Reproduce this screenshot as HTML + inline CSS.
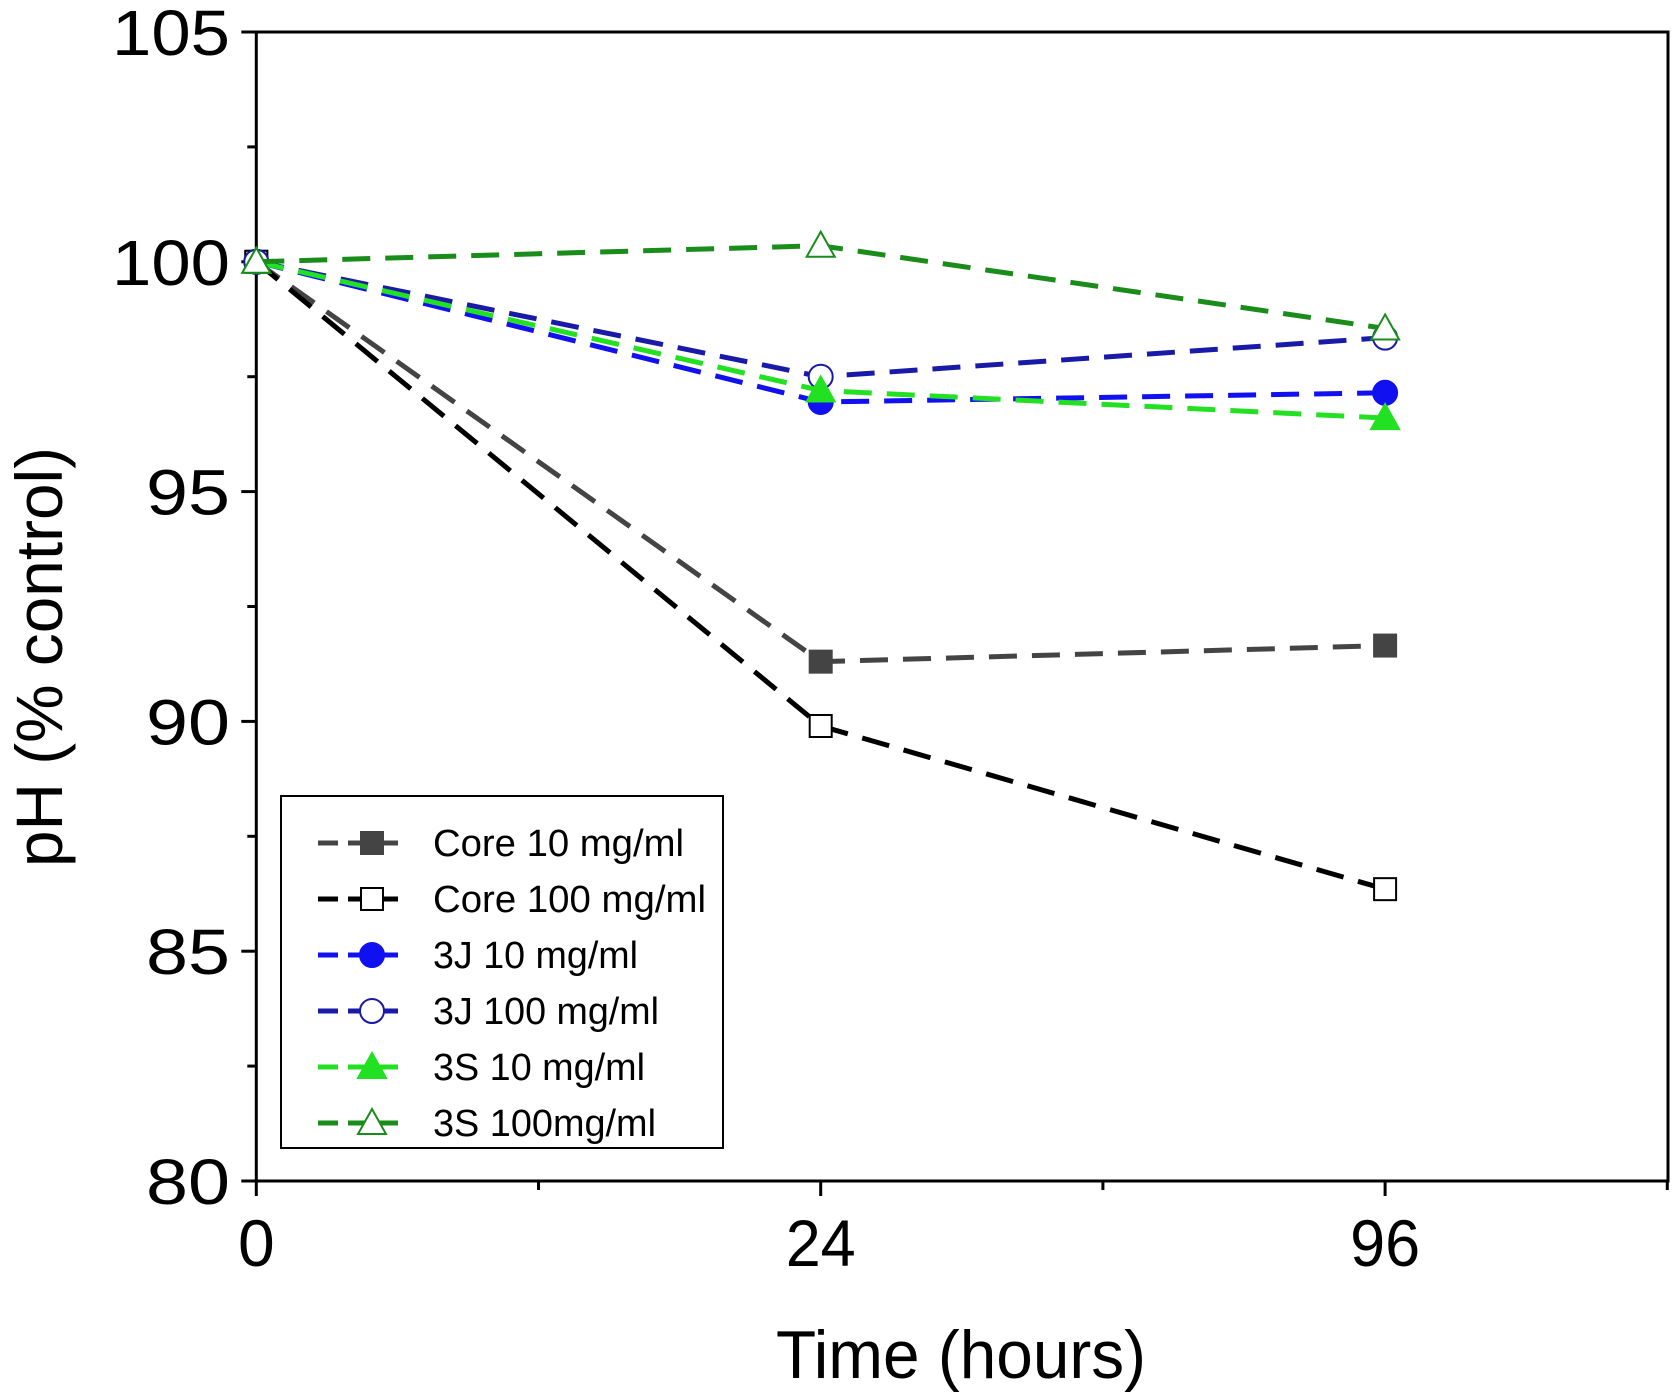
<!DOCTYPE html>
<html><head><meta charset="utf-8"><style>
body{margin:0;background:#fff}
svg{display:block;font-family:"Liberation Sans",sans-serif}
</style></head><body>
<svg id="c" width="1675" height="1394" viewBox="0 0 1675 1394"></svg>
<script>
const categories=["0","24","96"];
const yTicks=[80,85,90,95,100,105];
const seriesNames=["Core 10 mg/ml","Core 100 mg/ml","3J 10 mg/ml","3J 100 mg/ml","3S 10 mg/ml","3S 100mg/ml"];
const core10=[100,91.3,91.65];
const core100=[100,89.9,86.35];
const j10=[100,96.95,97.15];
const j100=[100,97.5,98.35];
const s10=[100,97.2,96.6];
const s100=[100,100.35,98.55];
const NS="http://www.w3.org/2000/svg";
const svg=document.getElementById('c');
const L=256.3,R=1668,T=32,B=1181;
const xs=i=>L+i*564.4;
const ys=v=>B-(v-80)*(B-T)/25;
function mk(t,a,p){const e=document.createElementNS(NS,t);for(const k in a)e.setAttribute(k,a[k]);(p||svg).appendChild(e);return e;}
const fr=mk('rect',{x:L,y:T,width:R-L,height:B-T,fill:'none',stroke:'#000','stroke-width':3});


yTicks.forEach(v=>{
 mk('line',{x1:L-15,x2:L,y1:ys(v),y2:ys(v),stroke:'#000','stroke-width':3});
 const t=mk('text',{x:230,y:ys(v)+23,'text-anchor':'end','font-size':64,fill:'#000','textLength':v>=100?118:84,'lengthAdjust':'spacingAndGlyphs'});
 t.textContent=v;
 
 
 if(v<105)mk('line',{x1:L-9,x2:L,y1:ys(v+2.5),y2:ys(v+2.5),stroke:'#000','stroke-width':3});
});
categories.forEach((c,i)=>{
 mk('line',{x1:xs(i),x2:xs(i),y1:B,y2:B+15,stroke:'#000','stroke-width':3});
 mk('line',{x1:xs(i+0.5),x2:xs(i+0.5),y1:B,y2:B+9,stroke:'#000','stroke-width':3});
 const a={x:xs(i),y:1266,'text-anchor':'middle','font-size':66,fill:'#000'};
 if(c.length==2){a.textLength=70;a.lengthAdjust='spacingAndGlyphs';}
 const t=mk('text',a);
 t.textContent=c;
 
 
});
let t=mk('text',{x:961,y:1378,'text-anchor':'middle','font-size':68,fill:'#000',textLength:370,lengthAdjust:'spacingAndGlyphs'});
t.textContent='Time (hours)';


t=mk('text',{x:0,y:0,'text-anchor':'middle','font-size':66,fill:'#000',transform:'translate(62,657) rotate(-90)',textLength:420,lengthAdjust:'spacingAndGlyphs'});
t.textContent='pH (% control)';


const series=[
 {d:core10,c:'#444',m:'sq',f:true},
 {d:core100,c:'#000',m:'sq',f:false},
 {d:j10,c:'#1010f0',m:'ci',f:true},
 {d:j100,c:'#1a1aa8',m:'ci',f:false},
 {d:s10,c:'#22e022',m:'tr',f:true},
 {d:s100,c:'#1a8c1a',m:'tr',f:false}];
function marker(m,x,y,c,f,g){
 const fill=f?c:'#fff',sc=f?c:(m=='sq'?'#000':c);
 if(m=='sq')return mk('rect',{x:x-11,y:y-11,width:22,height:22,fill:fill,stroke:sc,'stroke-width':2},g);
 if(m=='ci')return mk('circle',{cx:x,cy:y,r:12,fill:fill,stroke:sc,'stroke-width':2},g);
 return mk('polygon',{points:`${x},${y-14} ${x-14},${y+11} ${x+14},${y+11}`,fill:fill,stroke:sc,'stroke-width':2},g);
}
series.forEach((s,k)=>{
 const g=mk('g',{});
 
 
 mk('polyline',{points:s.d.map((v,i)=>xs(i)+','+ys(v)).join(' '),fill:'none',stroke:s.c,'stroke-width':5,'stroke-dasharray':'28,15'},g);
 s.d.forEach((v,i)=>{const p=marker(s.m,xs(i),ys(v),s.c,s.f,g);
  
  });
});
const lg=mk('g',{});


mk('rect',{x:281,y:796,width:442,height:352,fill:'#fff',stroke:'#000','stroke-width':2},lg);
const lw=[251,273,205,226,212,223];
series.forEach((s,k)=>{
 const y=843+k*56;
 const e=mk('g',{},lg);
 
 
 mk('line',{x1:318,x2:398,y1:y,y2:y,stroke:s.c,'stroke-width':5,'stroke-dasharray':'20,10'},e);
 marker(s.m,372,y,s.c,s.f,e);
 const tx=mk('text',{x:433,y:y+13,'font-size':38,fill:'#000',textLength:lw[k],lengthAdjust:'spacingAndGlyphs'},e);
 tx.textContent=seriesNames[k];
});
</script>
</body></html>
